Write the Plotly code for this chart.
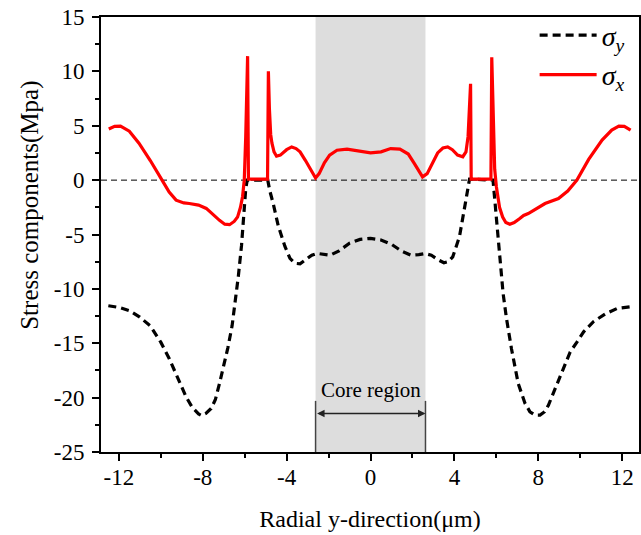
import plotly.graph_objects as go

# sigma_y (black dashed)
sy_x = [-12.5, -12.0, -11.5, -11.0, -10.5, -10.0, -9.6, -9.2, -8.8, -8.5, -8.2, -8.05, -7.85, -7.6, -7.4,
        -7.2, -7.0, -6.8, -6.6, -6.45, -6.3, -6.15, -6.05, -5.95, -5.88, -4.9, -4.8, -4.64, -4.4, -4.08,
        -3.84, -3.6, -3.36, -3.1, -2.8, -2.54, -2.2, -1.92, -1.5, -1.0, -0.5, 0.0, 0.5, 1.0, 1.5, 1.92,
        2.3, 2.6, 2.9, 3.2, 3.5, 3.7, 3.92, 4.24, 4.56, 4.72, 5.84, 5.92, 6.08, 6.24, 6.32, 6.48, 6.72,
        7.04, 7.36, 7.6, 7.85, 8.08, 8.3, 8.48, 8.88, 9.2, 9.52, 9.84, 10.16, 10.64, 11.2, 11.76, 12.4]
sy_y = [-11.55, -11.7, -12.0, -12.6, -13.4, -14.9, -16.4, -18.1, -19.9, -20.9, -21.5, -21.65, -21.45, -21.0, -20.2,
        -18.7, -17.2, -15.4, -13.4, -11.2, -8.8, -6.0, -3.3, -0.8, 0.0, 0.0, -1.0, -2.15, -4.2, -6.1,
        -7.2, -7.65, -7.7, -7.3, -6.9, -6.74, -6.8, -6.9, -6.5, -5.8, -5.45, -5.35, -5.5, -5.9, -6.55, -6.9,
        -6.85, -6.75, -6.9, -7.3, -7.6, -7.5, -7.05, -5.2, -1.7, 0.1, 0.0, -1.8, -5.5, -9.0, -10.4, -12.7, -15.5,
        -18.7, -20.5, -21.3, -21.6, -21.6, -21.3, -20.7, -18.85, -17.2, -15.8, -14.9, -13.95, -13.0, -12.3, -11.8, -11.65]

# sigma_x (red solid)
sx_x = [-12.48, -12.2, -11.92, -11.5, -11.04, -10.5, -9.94, -9.6, -9.27, -8.9, -8.64, -8.2, -7.83, -7.5,
        -7.2, -6.95, -6.72, -6.5, -6.34, -6.2, -6.1, -6.02, -5.95, -5.86, -5.82, -4.91, -4.87, -4.82, -4.76,
        -4.7, -4.6, -4.48, -4.3, -4.0, -3.76, -3.55, -3.36, -3.1, -2.85, -2.62, -2.45, -2.2, -1.95, -1.6,
        -1.12, -0.6, 0.0, 0.5, 0.96, 1.4, 1.8, 2.1, 2.3, 2.48, 2.7, 2.95, 3.2, 3.45, 3.68, 3.9, 4.15,
        4.4, 4.55, 4.65, 4.72, 4.77, 4.8, 5.74, 5.78, 5.85, 5.92, 6.0, 6.15, 6.3, 6.45, 6.64, 6.85, 7.1,
        7.3, 7.52, 7.9, 8.32, 8.96, 9.4, 9.84, 10.4, 11.04, 11.5, 11.84, 12.1, 12.4]
sx_y = [4.7, 4.95, 4.97, 4.5, 3.4, 1.8, 0.0, -1.1, -1.84, -2.1, -2.15, -2.3, -2.6, -3.2,
        -3.7, -4.05, -4.1, -3.8, -3.4, -2.5, -1.5, 0.0, 4.0, 11.4, 0.1, 0.1, 10.0, 6.5, 4.2,
        3.4, 2.6, 2.2, 2.3, 2.8, 3.05, 2.9, 2.6, 1.8, 0.9, 0.2, 0.6, 1.6, 2.3, 2.75,
        2.85, 2.7, 2.5, 2.6, 2.9, 2.85, 2.4, 1.5, 0.8, 0.3, 0.6, 1.6, 2.5, 2.95, 3.05, 2.8, 2.3,
        2.15, 2.6, 4.0, 6.5, 8.85, 0.1, 0.1, 11.3, 5.0, 1.0, -0.6, -2.5, -3.4, -3.9, -4.05, -3.9, -3.55,
        -3.25, -3.07, -2.6, -2.15, -1.69, -1.0, 0.0, 1.9, 3.68, 4.6, 4.97, 4.95, 4.6]

core_lo, core_hi = -2.62, 2.62
x_ticks = [-12, -8, -4, 0, 4, 8, 12]
y_ticks = [15, 10, 5, 0, -5, -10, -15, -20, -25]

FONT = "Liberation Serif"

fig = go.Figure()
fig.add_trace(go.Scatter(x=sy_x, y=sy_y, mode="lines", name="<i>σ<sub>y</sub></i>",
                         line=dict(color="black", width=3.2, dash="8px,5px")))
fig.add_trace(go.Scatter(x=sx_x, y=sx_y, mode="lines", name="<i>σ<sub>x</sub></i>",
                         line=dict(color="#ff0000", width=3.2)))

fig.add_shape(type="rect", xref="x", yref="paper", x0=core_lo, x1=core_hi, y0=0, y1=1,
              fillcolor="#dddddd", line_width=0, layer="below")
fig.add_shape(type="line", xref="paper", yref="y", x0=0, x1=1, y0=0, y1=0,
              line=dict(color="black", width=1, dash="6px,4px"), layer="below")
for xv in (core_lo, core_hi):
    fig.add_shape(type="line", xref="x", yref="y", x0=xv, x1=xv, y0=-20.3, y1=-25,
                  line=dict(color="#444444", width=1.5))

fig.add_annotation(x=core_hi, y=-21.45, ax=core_lo, ay=-21.45, axref="x", ayref="y",
                   xref="x", yref="y", text="", showarrow=True, arrowhead=2, arrowside="end+start",
                   arrowsize=1, arrowwidth=1.5, arrowcolor="#222222", standoff=0, startstandoff=0)
fig.add_annotation(x=0, y=-19.3, xref="x", yref="y", text="Core region", showarrow=False,
                   font=dict(family=FONT, size=21, color="black"))
# y-axis title (placed as in the reference, slightly above the plot centre)
fig.add_annotation(x=0, xref="x domain", xshift=-71, xanchor="center", y=0.566, yref="y domain",
                   yanchor="middle", text="Stress components(Mpa)", showarrow=False, textangle=-90,
                   font=dict(family=FONT, size=25, color="black"))

fig.update_layout(
    width=641, height=535,
    margin=dict(l=101, r=2, t=17, b=83),
    paper_bgcolor="white", plot_bgcolor="white",
    font=dict(family=FONT, color="black"),
    showlegend=True,
    legend=dict(x=0.806, y=1.015, xanchor="left", yanchor="top", bgcolor="rgba(0,0,0,0)",
                font=dict(family=FONT, size=28), itemwidth=57),
)
fig.update_xaxes(range=[-12.85, 12.8], tickvals=x_ticks, ticktext=[str(v) for v in x_ticks],
                 ticks="outside", ticklen=7, tickwidth=1.5, tickcolor="black",
                 minor=dict(dtick=2, tick0=0, ticks="outside", ticklen=4, tickwidth=1.5, tickcolor="black"),
                 showline=True, linewidth=2, linecolor="black", mirror=True,
                 showgrid=False, zeroline=False, automargin=False,
                 tickfont=dict(family=FONT, size=23), ticklabelstandoff=-4,
                 title=dict(text="Radial y-direction(μm)", font=dict(family=FONT, size=24), standoff=22))
fig.update_yaxes(range=[-25, 15], tickvals=y_ticks, ticktext=[str(v) for v in y_ticks],
                 ticks="outside", ticklen=7, tickwidth=1.5, tickcolor="black",
                 minor=dict(dtick=2.5, tick0=0, ticks="outside", ticklen=4, tickwidth=1.5, tickcolor="black"),
                 showline=True, linewidth=2, linecolor="black", mirror=True,
                 showgrid=False, zeroline=False, automargin=False,
                 tickfont=dict(family=FONT, size=23), ticklabelstandoff=3)

fig.write_html("out.html", config={"displayModeBar": False},
               post_script="document.body.style.margin='0px';")
